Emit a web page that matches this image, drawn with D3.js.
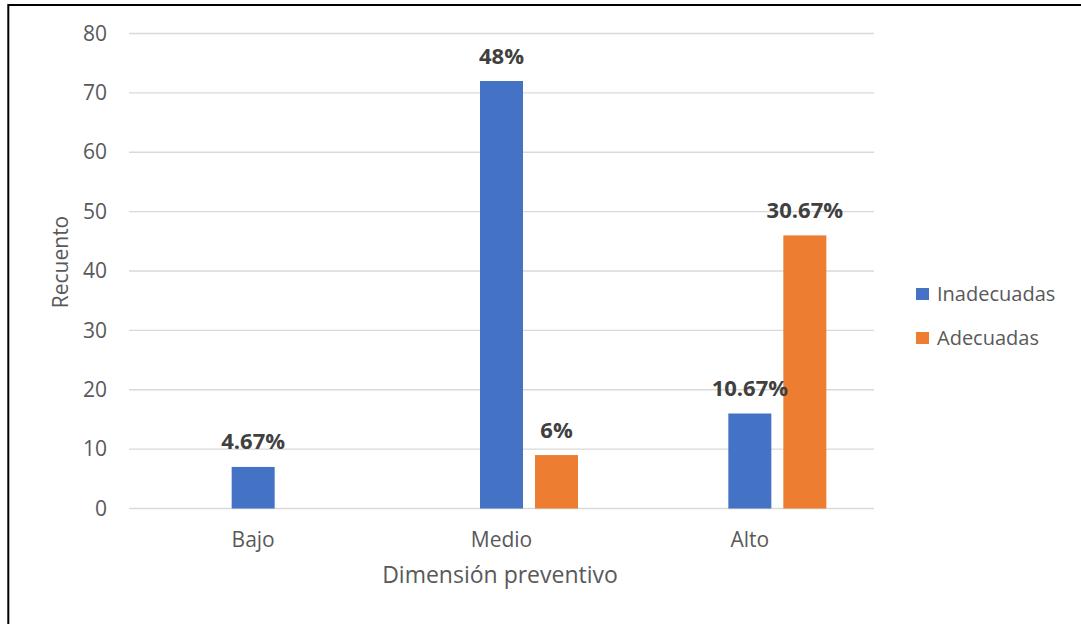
<!DOCTYPE html>
<html>
<head>
<meta charset="utf-8">
<script src="https://cdn.jsdelivr.net/npm/d3@7/dist/d3.min.js"></script>
<style>
  html, body { margin: 0; padding: 0; background: #fff; }
  svg { display: block; font-family: "Open Sans", "Noto Sans", sans-serif; }
</style>
</head>
<body>
<svg id="chart" width="1081" height="624"></svg>
<script>
// Categories and series
const categories = ["Bajo", "Medio", "Alto"];
const seriesNames = ["Inadecuadas", "Adecuadas"];
const inadecuadas = [7, 72, 16];
const adecuadas = [0, 9, 46];
const inadecuadasLabels = ["4.67%", "48%", "10.67%"];
const adecuadasLabels = [null, "6%", "30.67%"];
const yTicks = [0, 10, 20, 30, 40, 50, 60, 70, 80];
const colors = ["#4472C4", "#ED7D31"];

const svg = d3.select("#chart");

// outer frame (only the top and left edges fall inside the canvas)
svg.append("rect")
  .attr("x", 8.3).attr("y", 5)
  .attr("width", 1200).attr("height", 800)
  .attr("fill", "none").attr("stroke", "#000").attr("stroke-width", 2);

const plot = { left: 129, right: 874, top: 33.5, bottom: 508.5 };

const x0 = d3.scaleBand().domain(categories).range([plot.left, plot.right]).padding(0);
const y = d3.scaleLinear().domain([0, 80]).range([plot.bottom, plot.top]);

const barW = 43, gap = 12;
// first series is centered on the category, second sits to its right
const x1 = d3.scaleBand().domain(seriesNames)
  .range([-barW / 2, -barW / 2 + 2 * barW + gap])
  .paddingInner(gap / (barW + gap));

// gridlines
svg.append("g").selectAll("line").data(yTicks).join("line")
  .attr("x1", plot.left).attr("x2", plot.right)
  .attr("y1", d => y(d)).attr("y2", d => y(d))
  .attr("stroke", "#D9D9D9").attr("stroke-width", 1.3);

// y tick labels
const yAxis = d3.axisLeft(y).tickValues(yTicks).tickSize(0).tickPadding(0);
const gy = svg.append("g").attr("transform", `translate(107,0)`).call(yAxis);
gy.select(".domain").remove();
gy.selectAll("text").attr("fill", "#595959").style("font-size", "21px")
  .style("font-family", "'Open Sans', sans-serif");

// x category labels
const xAxis = d3.axisBottom(x0).tickSize(0).tickPadding(0);
const gx = svg.append("g").attr("transform", `translate(0,532)`).call(xAxis);
gx.select(".domain").remove();
gx.selectAll("text").attr("fill", "#595959").style("font-size", "21px")
  .style("font-family", "'Open Sans', sans-serif");

// bars
const rows = categories.map((c, i) => ({
  cat: c,
  vals: [
    { s: seriesNames[0], v: inadecuadas[i], label: inadecuadasLabels[i], color: colors[0] },
    { s: seriesNames[1], v: adecuadas[i], label: adecuadasLabels[i], color: colors[1] }
  ]
}));

const groups = svg.append("g").selectAll("g").data(rows).join("g")
  .attr("transform", d => `translate(${x0(d.cat) + x0.bandwidth() / 2},0)`);

groups.selectAll("rect").data(d => d.vals.filter(v => v.v > 0)).join("rect")
  .attr("x", d => x1(d.s))
  .attr("width", x1.bandwidth())
  .attr("y", d => y(d.v))
  .attr("height", d => y(0) - y(d.v))
  .attr("fill", d => d.color);

groups.selectAll("text.lbl").data(d => d.vals.filter(v => v.label)).join("text")
  .attr("class", "lbl")
  .attr("x", d => x1(d.s) + x1.bandwidth() / 2)
  .attr("y", d => y(d.v) - 17.5)
  .attr("text-anchor", "middle")
  .attr("fill", "#404040")
  .style("font-size", "22px").style("font-weight", "bold")
  .text(d => d.label);

// axis titles
svg.append("text")
  .attr("x", 500).attr("y", 583)
  .attr("text-anchor", "middle")
  .attr("fill", "#595959").style("font-size", "23px")
  .text("Dimensión preventivo");

svg.append("text")
  .attr("transform", "translate(68,262) rotate(-90)")
  .attr("text-anchor", "middle")
  .attr("fill", "#595959").style("font-size", "21px")
  .text("Recuento");

// legend
const legend = svg.append("g").selectAll("g").data(seriesNames).join("g")
  .attr("transform", (d, i) => `translate(916,${288 + i * 44})`);
legend.append("rect").attr("width", 13).attr("height", 12)
  .attr("fill", (d, i) => colors[i]);
legend.append("text").attr("x", 21).attr("y", 6).attr("dy", "0.35em")
  .attr("fill", "#595959").style("font-size", "20px")
  .text(d => d);
</script>
</body>
</html>
